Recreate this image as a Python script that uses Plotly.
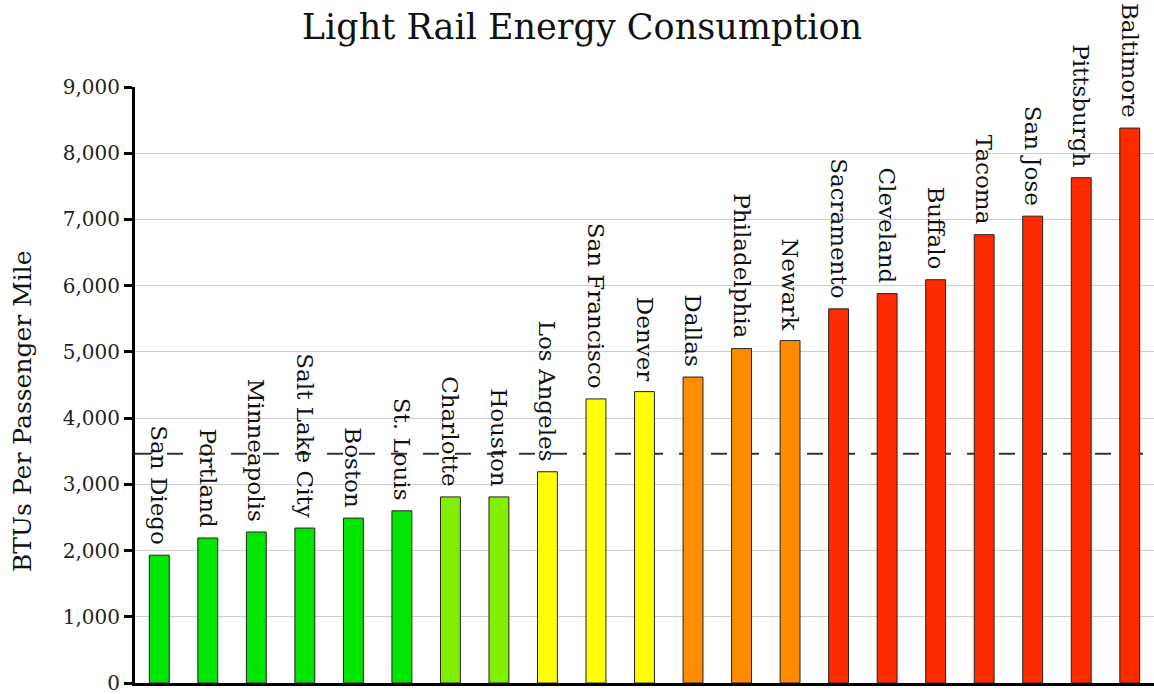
import plotly.graph_objects as go

# Light rail systems, sorted by energy use (BTUs per passenger mile)
cities = [
    "San Diego", "Portland", "Minneapolis", "Salt Lake City", "Boston",
    "St. Louis", "Charlotte", "Houston", "Los Angeles", "San Francisco",
    "Denver", "Dallas", "Philadelphia", "Newark", "Sacramento",
    "Cleveland", "Buffalo", "Tacoma", "San Jose", "Pittsburgh", "Baltimore",
]
btus = [
    1930, 2190, 2280, 2340, 2490,
    2600, 2810, 2810, 3190, 4290,
    4400, 4620, 5050, 5170, 5650,
    5880, 6090, 6770, 7050, 7630, 8380,
]
# Efficiency tier of each system
tiers = [
    "green", "green", "green", "green", "green",
    "green", "lime", "lime", "yellow", "yellow",
    "yellow", "orange", "orange", "orange", "red",
    "red", "red", "red", "red", "red", "red",
]
average_btus = 3460

tier_colors = {
    "green": "#00e600",
    "lime": "#80f000",
    "yellow": "#ffff00",
    "orange": "#ff8c00",
    "red": "#ff2a00",
}

serif = "DejaVu Serif"

fig = go.Figure()
fig.add_trace(go.Bar(
    x=cities,
    y=btus,
    # trailing no-break space keeps the rotated label clear of the bar top
    text=[c + "\u00a0" for c in cities],
    textposition="outside",
    textangle=90,
    constraintext="none",
    cliponaxis=False,
    textfont=dict(family=serif, size=23, color="#111111"),
    marker=dict(
        color=[tier_colors[t] for t in tiers],
        line=dict(color="#222222", width=1),
    ),
    width=0.41,
    hoverinfo="x+y",
))

# Average reference line
fig.add_shape(
    type="line", xref="paper", yref="y",
    x0=0, x1=1, y0=average_btus, y1=average_btus,
    line=dict(color="#333333", width=2, dash="16px,16px"),
    layer="below",
)

fig.add_annotation(
    text="BTUs Per Passenger Mile",
    xref="paper", yref="paper",
    x=(22 - 135) / 1019, y=(694 - 411 - 11) / (694 - 87 - 11),
    xanchor="center", yanchor="middle",
    textangle=-90, showarrow=False,
    font=dict(family=serif, size=25, color="#111111"),
)

fig.update_layout(
    width=1154, height=694,
    margin=dict(l=135, r=0, t=87, b=11),
    paper_bgcolor="white", plot_bgcolor="white",
    showlegend=False,
    title=dict(
        text="Light Rail Energy Consumption",
        x=582 / 1154, xanchor="center",
        y=1 - 27 / 694, yanchor="middle",
        font=dict(family=serif, size=35, color="#111111"),
    ),
    xaxis=dict(
        showticklabels=False, showgrid=False, ticks="",
        showline=True, linecolor="black", linewidth=3,
        range=[-0.5, len(cities) - 0.5],
    ),
    yaxis=dict(
        range=[0, 9000], dtick=1000, tickformat=",d",
        showgrid=True, gridcolor="#cccccc", gridwidth=1,
        showline=True, linecolor="black", linewidth=3,
        ticks="outside", ticklen=8, tickwidth=3, tickcolor="black",
        tickfont=dict(family=serif, size=20, color="#222222"),
        ticklabeloverflow="allow",
        zeroline=False,
    ),
)

fig.write_html("out.html")
